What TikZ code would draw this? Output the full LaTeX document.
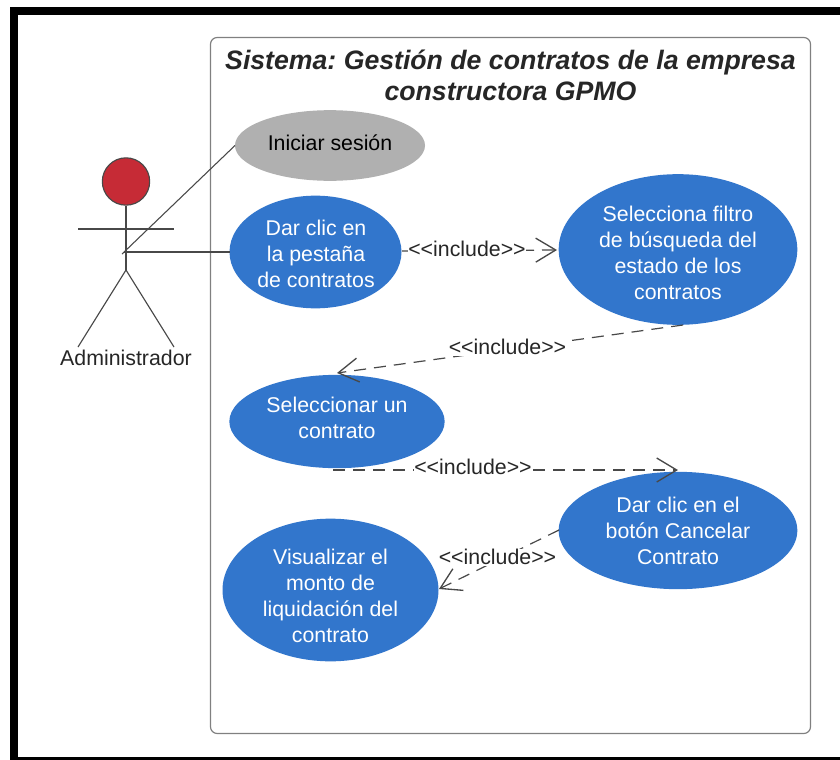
\documentclass[tikz,border=0pt]{standalone}
\usepackage{fontspec}
\setmainfont{Liberation Sans}
\usetikzlibrary{shapes.geometric,arrows.meta}
\definecolor{ucblue}{HTML}{3276CC}
\definecolor{ucgray}{HTML}{B0B0B0}
\definecolor{ucred}{HTML}{C62B36}
\definecolor{ucline}{HTML}{484848}
\definecolor{ucframe}{HTML}{808080}
\newcommand{\incltext}{<{}<include>{}>}
\tikzset{
  usecase/.style={ellipse,inner sep=0pt,outer sep=0pt,fill=ucblue},
  graycase/.style={usecase,fill=ucgray},
  casetext/.style={inner sep=0pt,text=white,align=center,font=\fontsize{16}{19.5}\selectfont},
  assoc/.style={draw=ucline,line width=0.8pt},
  limb/.style={draw=ucline,line width=0.85pt},
  incl/.style={draw=ucline,line width=0.9pt,dash pattern=on 9pt off 6pt,-{Straight Barb[length=15pt,width=18pt,line width=1pt]}},
  incllabel/.style={fill=white,inner sep=0.5pt,text=black!85,font=\fontsize{16}{18}\selectfont},
}
\begin{document}
\begin{tikzpicture}[x=0.75pt,y=-0.75pt]
\useasboundingbox (0,0) rectangle (840,760);
\fill[white] (0,0) rectangle (840,760);
\fill[black] (10,7) rectangle (840,760);
\fill[white] (18,15) rectangle (840,757);
\node[draw=ucframe,line width=0.9pt,rounded corners=5pt,minimum width=450pt,minimum height=522pt,outer sep=0pt,anchor=north west,inner sep=0pt] (sys) at (210.5,37.5) {};
\node[align=center,font=\fontsize{20}{23.25}\selectfont\bfseries\itshape,text=black!85] (title) at (510.5,75.5) {\frenchspacing Sistema: Gestión de contratos de la empresa\\constructora GPMO};
\node[graycase,minimum width=142.5pt,minimum height=53pt] (login) at (330,145.5) {};
\node[casetext,text=black] (logintext) at (330,143) {Iniciar sesión};
\node[usecase,minimum width=129pt,minimum height=84.5pt] (tab) at (315.5,252) {};
\node[casetext] (tabtext) at (316,254) {Dar clic en\\la pestaña\\de contratos};
\node[usecase,minimum width=179pt,minimum height=113pt] (filter) at (678,249.5) {};
\node[casetext] (filtertext) at (678,253) {Selecciona filtro\\de búsqueda del\\estado de los\\contratos};
\node[usecase,minimum width=161.5pt,minimum height=70pt] (select) at (337,421.5) {};
\node[casetext] (selecttext) at (337,418) {Seleccionar un\\contrato};
\node[usecase,minimum width=179pt,minimum height=88pt] (cancel) at (678,530.5) {};
\node[casetext] (canceltext) at (678,531) {Dar clic en el\\botón Cancelar\\Contrato};
\node[usecase,minimum width=162pt,minimum height=107pt] (show) at (330.5,590) {};
\node[casetext] (showtext) at (330.5,596) {Visualizar el\\monto de\\liquidación del\\contrato};
\node[circle,draw=ucline,fill=ucred,line width=0.85pt,minimum size=35.5pt,inner sep=0pt] (head) at (126,181.5) {};
\coordinate (hip) at (126,270);
\coordinate (armL) at (78,229);
\coordinate (armR) at (174,229);
\coordinate (footL) at (78,347);
\coordinate (footR) at (174,347);
\coordinate (handA) at (122,254);
\coordinate (handB) at (124,252);
\draw[limb] (head.south) -- (hip);
\draw[limb] (armL) -- (armR);
\draw[limb] (footL) -- (hip) -- (footR);
\node[font=\fontsize{16}{18}\selectfont,text=black!85] (actor) at (126,358) {Administrador};
\draw[assoc] (handA) -- (login.west);
\draw[assoc] (handB) -- (tab.west);
\coordinate (a1) at (402,251);
\coordinate (a2) at (557,250);
\coordinate (b1) at (683,325);
\coordinate (b2) at (337,373);
\coordinate (c1) at (333,470);
\coordinate (c2) at (678,470);
\coordinate (d1) at (559,530);
\coordinate (d2) at (439,589);
\draw[incl] (a1) -- (a2);
\draw[incl] (b1) -- (b2);
\draw[incl] (c1) -- (c2);
\draw[incl] (d1) -- (d2);
\node[incllabel] (la) at (467,249) {\incltext};
\node[incllabel] (lb) at (507.5,347) {\incltext};
\node[incllabel] (lc) at (473,467) {\incltext};
\node[incllabel] (ld) at (497.5,557) {\incltext};
\end{tikzpicture}
\end{document}
